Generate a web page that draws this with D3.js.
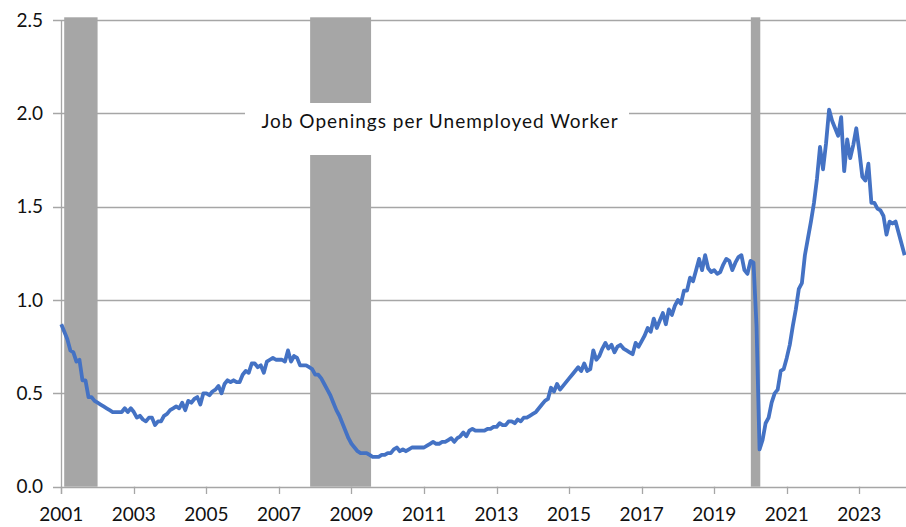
<!DOCTYPE html>
<html>
<head>
<meta charset="utf-8">
<script src="https://cdn.jsdelivr.net/npm/d3@7"></script>
<style>
  html, body { margin: 0; padding: 0; background: #fff; }
  svg text { font-family: Lato, "Open Sans", sans-serif; fill: #111; }
</style>
</head>
<body>
<svg id="chart" width="906" height="527"></svg>
<script>
(function(){
  // monthly ratio, one row per year, Jan 2001 .. Apr 2024
  var y2001 = [0.87, 0.83, 0.79, 0.73, 0.72, 0.67, 0.68, 0.57, 0.57, 0.48, 0.48, 0.46];
  var y2002 = [0.45, 0.44, 0.43, 0.42, 0.41, 0.40, 0.40, 0.40, 0.40, 0.42, 0.40, 0.42];
  var y2003 = [0.40, 0.37, 0.38, 0.36, 0.35, 0.37, 0.37, 0.33, 0.35, 0.35, 0.38, 0.39];
  var y2004 = [0.41, 0.42, 0.43, 0.42, 0.45, 0.41, 0.46, 0.45, 0.47, 0.48, 0.44, 0.50];
  var y2005 = [0.50, 0.49, 0.51, 0.52, 0.54, 0.50, 0.55, 0.57, 0.56, 0.57, 0.56, 0.56];
  var y2006 = [0.60, 0.62, 0.61, 0.66, 0.66, 0.64, 0.65, 0.61, 0.67, 0.68, 0.69, 0.68];
  var y2007 = [0.68, 0.68, 0.67, 0.73, 0.67, 0.70, 0.69, 0.65, 0.65, 0.65, 0.64, 0.63];
  var y2008 = [0.60, 0.60, 0.58, 0.55, 0.52, 0.49, 0.45, 0.41, 0.38, 0.34, 0.30, 0.26];
  var y2009 = [0.23, 0.21, 0.19, 0.18, 0.18, 0.18, 0.17, 0.16, 0.16, 0.16, 0.17, 0.17];
  var y2010 = [0.18, 0.18, 0.20, 0.21, 0.19, 0.20, 0.19, 0.20, 0.21, 0.21, 0.21, 0.21];
  var y2011 = [0.21, 0.22, 0.23, 0.24, 0.23, 0.23, 0.24, 0.24, 0.25, 0.26, 0.24, 0.26];
  var y2012 = [0.27, 0.29, 0.27, 0.30, 0.31, 0.30, 0.30, 0.30, 0.30, 0.31, 0.31, 0.32];
  var y2013 = [0.32, 0.34, 0.33, 0.33, 0.35, 0.35, 0.34, 0.36, 0.35, 0.37, 0.37, 0.38];
  var y2014 = [0.39, 0.40, 0.42, 0.44, 0.46, 0.47, 0.53, 0.51, 0.55, 0.52, 0.54, 0.56];
  var y2015 = [0.58, 0.60, 0.62, 0.64, 0.62, 0.66, 0.62, 0.63, 0.73, 0.68, 0.70, 0.74];
  var y2016 = [0.77, 0.74, 0.76, 0.72, 0.75, 0.76, 0.74, 0.73, 0.72, 0.71, 0.77, 0.75];
  var y2017 = [0.78, 0.81, 0.85, 0.83, 0.90, 0.85, 0.89, 0.93, 0.87, 0.95, 0.92, 0.97];
  var y2018 = [1.00, 0.98, 1.05, 1.05, 1.12, 1.10, 1.16, 1.22, 1.16, 1.24, 1.17, 1.15];
  var y2019 = [1.16, 1.14, 1.15, 1.19, 1.22, 1.21, 1.16, 1.20, 1.23, 1.24, 1.16, 1.14];
  var y2020 = [1.21, 1.20, 0.86, 0.20, 0.25, 0.34, 0.37, 0.45, 0.50, 0.52, 0.62, 0.63];
  var y2021 = [0.69, 0.76, 0.86, 0.95, 1.06, 1.09, 1.24, 1.33, 1.42, 1.52, 1.65, 1.82];
  var y2022 = [1.70, 1.84, 2.02, 1.96, 1.92, 1.88, 1.98, 1.69, 1.86, 1.76, 1.83, 1.92];
  var y2023 = [1.80, 1.66, 1.64, 1.73, 1.52, 1.52, 1.49, 1.48, 1.45, 1.35, 1.42, 1.41];
  var y2024 = [1.42, 1.36, 1.30, 1.24];

  var recessionStart = [2001.08, 2007.86, 2020.01];
  var recessionEnd   = [2002.00, 2009.54, 2020.27];

  var yTicks = [0, 0.5, 1.0, 1.5, 2.0, 2.5];
  var xTicks = [2001, 2003, 2005, 2007, 2009, 2011, 2013, 2015, 2017, 2019, 2021, 2023];
  var title = 'Job Openings per Unemployed Worker';

  var years = [y2001, y2002, y2003, y2004, y2005, y2006, y2007, y2008, y2009, y2010, y2011, y2012,
               y2013, y2014, y2015, y2016, y2017, y2018, y2019, y2020, y2021, y2022, y2023, y2024];
  var series = [];
  years.forEach(function(arr, yi) {
    arr.forEach(function(v, m) { series.push({t: 2001 + yi + m / 12, v: v}); });
  });

  var svg = d3.select('#chart');
  var x = d3.scaleLinear().domain([2001, 2023]).range([61.3, 859.3]);
  var y = d3.scaleLinear().domain([0, 2.5]).range([486.7, 20]);
  var right = 906;

  // gridlines
  svg.append('g')
    .selectAll('line')
    .data(yTicks)
    .enter()
    .append('line')
    .attr('x1', 53).attr('x2', right)
    .attr('y1', function(d) {return Math.round(y(d)) + 0.5;})
    .attr('y2', function(d) {return Math.round(y(d)) + 0.5;})
    .attr('stroke', '#a6a6a6')
    .attr('stroke-width', 1.3);

  // y axis line
  svg.append('line')
    .attr('x1', 61.5).attr('x2', 61.5)
    .attr('y1', y(2.5)).attr('y2', 494)
    .attr('stroke', '#a6a6a6').attr('stroke-width', 1.3);

  // x tick marks
  svg.append('g')
    .selectAll('line')
    .data(xTicks)
    .enter()
    .append('line')
    .attr('x1', function(d) {return Math.round(x(d)) + 0.5;})
    .attr('x2', function(d) {return Math.round(x(d)) + 0.5;})
    .attr('y1', y(0)).attr('y2', 494)
    .attr('stroke', '#a6a6a6').attr('stroke-width', 1.3);

  // recession bands
  svg.append('g')
    .selectAll('rect')
    .data(recessionStart)
    .enter()
    .append('rect')
    .attr('x', function(d) {return x(d);})
    .attr('width', function(d, i) {return x(recessionEnd[i]) - x(d);})
    .attr('y', 17.3)
    .attr('height', y(0) - 17.3)
    .attr('fill', '#a6a6a6');

  // title box
  svg.append('rect')
    .attr('x', 245).attr('y', 103)
    .attr('width', 384).attr('height', 52)
    .attr('fill', '#fff');
  svg.append('text')
    .attr('x', 440).attr('y', 128)
    .attr('text-anchor', 'middle')
    .style('font-size', '19px')
    .style('letter-spacing', '1px')
    .text(title);

  // line
  var line = d3.line()
    .x(function(d) {return x(d.t);})
    .y(function(d) {return y(d.v);});
  svg.append('path')
    .datum(series)
    .attr('d', line)
    .attr('fill', 'none')
    .attr('stroke', '#4472C4')
    .attr('stroke-width', 3.8)
    .attr('stroke-linejoin', 'round');

  // labels
  svg.append('g')
    .selectAll('text')
    .data(yTicks)
    .enter()
    .append('text')
    .attr('x', 43)
    .attr('y', function(d) {return y(d);})
    .attr('dy', '0.35em')
    .attr('text-anchor', 'end')
    .style('font-size', '19px')
    .text(function(d) {return d3.format('.1f')(d);});

  svg.append('g')
    .selectAll('text')
    .data(xTicks)
    .enter()
    .append('text')
    .attr('x', function(d) {return x(d);})
    .attr('y', 521)
    .attr('text-anchor', 'middle')
    .style('font-size', '19px')
    .text(function(d) {return d;});
})();
</script>
</body>
</html>
